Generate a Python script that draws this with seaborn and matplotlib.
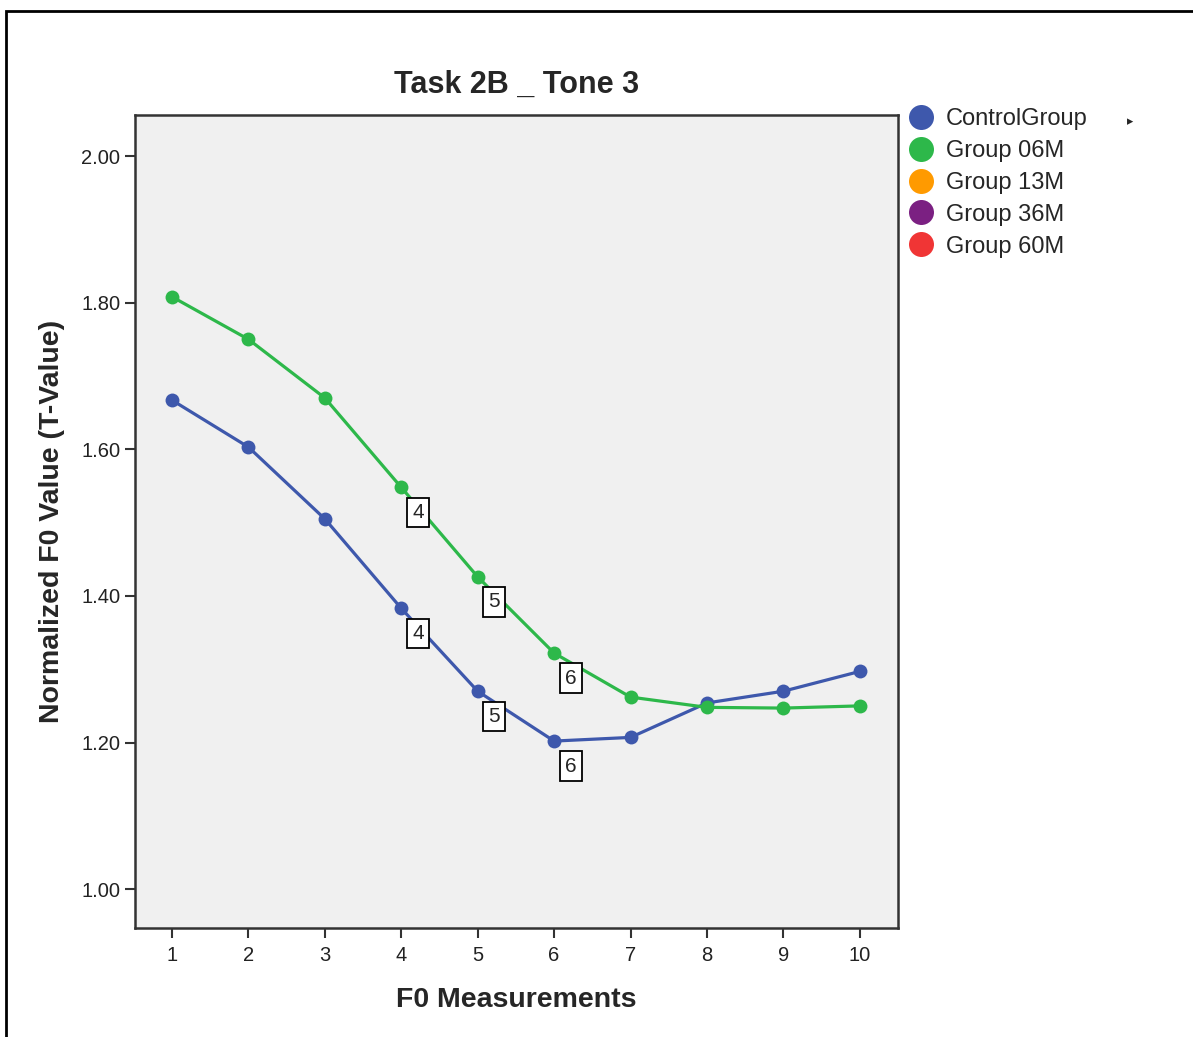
import matplotlib
matplotlib.use("Agg")
import matplotlib.pyplot as plt
import seaborn as sns
import pandas as pd
from matplotlib.lines import Line2D
from matplotlib.patches import Rectangle

measurements = [1, 2, 3, 4, 5, 6, 7, 8, 9, 10]
control = [1.667, 1.603, 1.505, 1.383, 1.270, 1.202, 1.207, 1.254, 1.270, 1.297]
group06 = [1.808, 1.750, 1.670, 1.548, 1.426, 1.322, 1.262, 1.248, 1.247, 1.250]
groups = ["ControlGroup", "Group 06M", "Group 13M", "Group 36M", "Group 60M"]
colors = ["#3E58AC", "#2DB84A", "#FF9A00", "#7B2082", "#F03535"]
labelled = [4, 5, 6]

df = pd.DataFrame({
    "x": measurements * 2,
    "y": control + group06,
    "group": ["ControlGroup"] * 10 + ["Group 06M"] * 10,
})

sns.set_style("white")
plt.rcParams["font.family"] = ["Liberation Sans", "DejaVu Sans"]

fig = plt.figure(figsize=(11.93, 10.37), dpi=100)
ax = fig.add_axes([0.1132, 0.1051, 0.6395, 0.784])
ax.set_facecolor("#F0F0F0")

sns.lineplot(data=df, x="x", y="y", hue="group", palette=dict(zip(groups, colors)),
             marker="o", markersize=10, markeredgewidth=0, linewidth=2.3,
             legend=False, ax=ax)

# point labels for 4, 5, 6
for vals in (control, group06):
    for m in labelled:
        ax.annotate(str(m), (m, vals[m - 1]), xytext=(12, -18), textcoords="offset points",
                    ha="center", va="center", fontsize=15,
                    bbox=dict(boxstyle="square,pad=0.25", fc="white", ec="black", lw=1.3))

ax.set_xlim(0.516, 10.5)
ax.set_ylim(0.947, 2.056)
ax.set_xticks(measurements)
ax.set_yticks([1.0, 1.2, 1.4, 1.6, 1.8, 2.0])
ax.set_yticklabels(["1.00", "1.20", "1.40", "1.60", "1.80", "2.00"])
ax.tick_params(axis="both", direction="out", length=7, width=1.5, color="#333333",
               labelsize=14.5, labelcolor="#222222", bottom=True, left=True)
ax.tick_params(axis="x", pad=6)
for s in ax.spines.values():
    s.set_color("#333333")
    s.set_linewidth(1.8)

ax.set_title("Task 2B _ Tone 3", fontsize=22, fontweight="bold", pad=16)
ax.set_xlabel("F0 Measurements", fontsize=20.5, fontweight="bold", labelpad=16)
ax.set_ylabel("Normalized F0 Value (T-Value)", fontsize=20.5, fontweight="bold", labelpad=12)

handles = [Line2D([], [], linestyle="none", marker="o", markersize=18,
                  markerfacecolor=c, markeredgewidth=0) for c in colors]
leg = fig.legend(handles, groups, loc="upper left", bbox_to_anchor=(0.752, 0.905),
                 frameon=False, fontsize=17, handletextpad=0.45, labelspacing=0.42,
                 handlelength=1.2, borderaxespad=0)

# outer border
fig.patches.append(Rectangle((0.005, -0.01), 1.2, 0.999, transform=fig.transFigure,
                             fill=False, ec="black", lw=2))
fig.text(0.947, 0.882, "\u25b8", fontsize=9, ha="center", va="center")

fig.savefig("out.png", dpi=100)
